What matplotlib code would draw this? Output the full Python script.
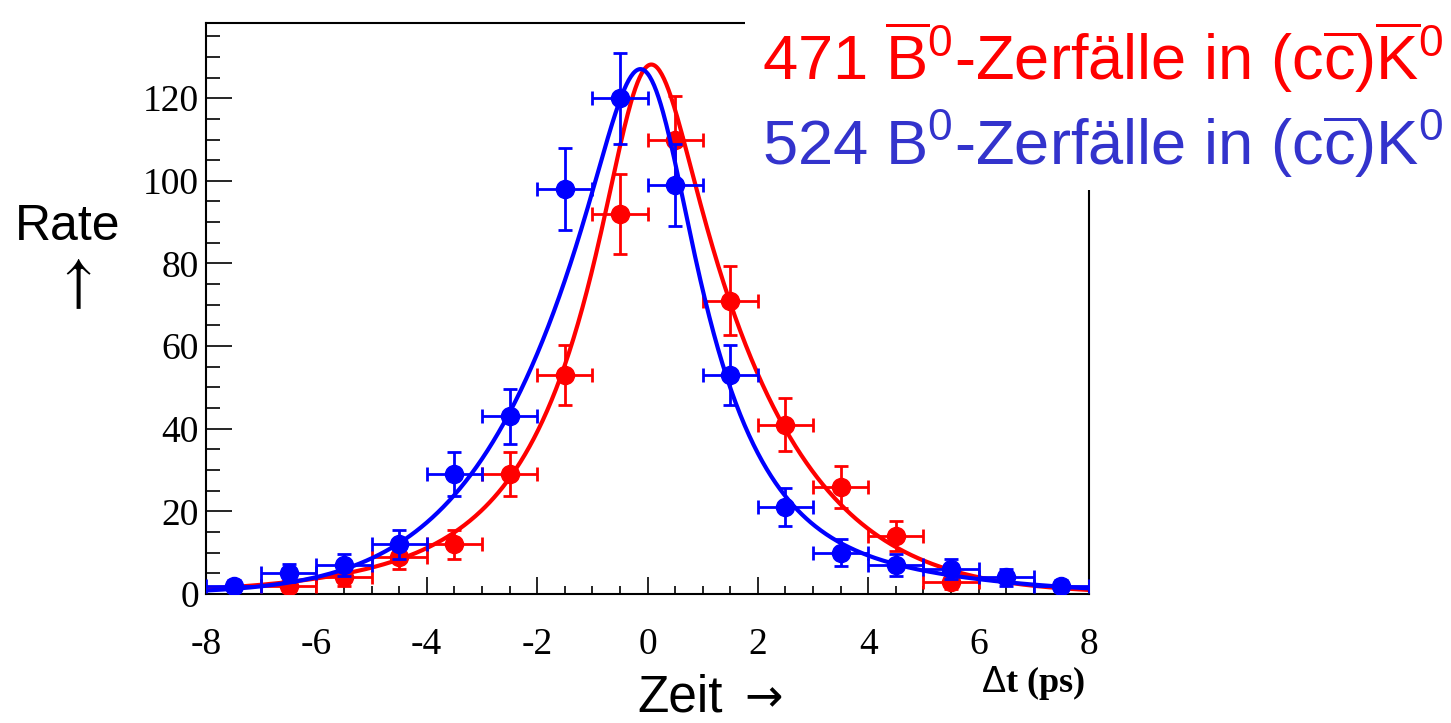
import numpy as np
import matplotlib
matplotlib.use("Agg")
from matplotlib import pyplot as plt
from matplotlib.patches import Rectangle
from matplotlib.ticker import MultipleLocator

# bin centres (ps) and counts
t_red = [-6.5, -5.5, -4.5, -3.5, -2.5, -1.5, -0.5, 0.5, 1.5, 2.5, 3.5, 4.5, 5.5]
n_red = [2, 4, 9, 12, 29, 53, 92, 110, 71, 41, 26, 14, 3]
e_red = [1.4, 2.0, 3.0, 3.5, 5.4, 7.3, 9.6, 10.5, 8.4, 6.4, 5.1, 3.7, 1.7]

t_blue = [-7.5, -6.5, -5.5, -4.5, -3.5, -2.5, -1.5, -0.5, 0.5, 1.5, 2.5, 3.5, 4.5, 5.5, 6.5, 7.5]
n_blue = [2, 5, 7, 12, 29, 43, 98, 120, 99, 53, 21, 10, 7, 6, 4, 2]
e_blue = [1.4, 2.2, 2.6, 3.5, 5.4, 6.6, 9.9, 11.0, 9.9, 7.3, 4.6, 3.2, 2.6, 2.4, 2.0, 1.4]

bin_half = 0.5

# fit parameters (amplitude, lifetime, dm, asymmetry, resolution)
fit_red = (154, 1.62, 0.5, 0.19, 0.40)
fit_blue = (154, 1.61, 0.5, -0.33, 0.43)

label_red = r"471 $\overline{\mathrm{B}}^{0}$-Zerfälle in $(\mathrm{c}\overline{\mathrm{c}})\overline{\mathrm{K}}^{0}$"
label_blue = r"524 $\mathrm{B}^{0}$-Zerfälle in $(\mathrm{c}\overline{\mathrm{c}})\mathrm{K}^{0}$"


def fit_model(t, amp, tau, dm, asym, sigma):
    # decay * (1 + A sin(dm t)), smeared with a gaussian resolution
    u = np.linspace(-12, 12, 4801)
    base = amp * np.exp(-np.abs(u) / tau) * (1 + asym * np.sin(dm * u))
    kern = np.exp(-0.5 * (u / sigma) ** 2)
    kern /= kern.sum()
    conv = np.convolve(base, kern, mode="same")
    return np.interp(t, u, conv)


plt.rcParams["mathtext.fontset"] = "custom"
plt.rcParams["mathtext.rm"] = "Liberation Sans"
plt.rcParams["mathtext.it"] = "Liberation Sans:italic"
plt.rcParams["mathtext.bf"] = "Liberation Sans:bold"
plt.rcParams["axes.unicode_minus"] = False

fig = plt.figure(figsize=(14.51, 7.23), dpi=100)
ax = fig.add_axes([206 / 1451, 1 - 594 / 723, (1089 - 206) / 1451, (594 - 23) / 723])

tt = np.linspace(-8, 8, 801)
red = "#ff0000"
blue = "#0000ff"

ax.plot(tt, fit_model(tt, *fit_red), color=red, lw=3, zorder=2)
ax.errorbar(t_red, n_red, yerr=e_red, xerr=bin_half, fmt="o", color=red, ms=13,
            elinewidth=2, capsize=5, capthick=2, zorder=3)
ax.plot(tt, fit_model(tt, *fit_blue), color=blue, lw=3, zorder=4)
ax.errorbar(t_blue, n_blue, yerr=e_blue, xerr=bin_half, fmt="o", color=blue, ms=13,
            elinewidth=2, capsize=5, capthick=2, zorder=5)

ax.set_xlim(-8, 8)
ax.set_ylim(0, 138.2)
ax.xaxis.set_major_locator(MultipleLocator(2))
ax.xaxis.set_minor_locator(MultipleLocator(0.5))
ax.yaxis.set_major_locator(MultipleLocator(20))
ax.yaxis.set_minor_locator(MultipleLocator(5))
ax.tick_params(axis="both", which="both", direction="in", top=False, right=False, width=1.2)
ax.tick_params(axis="x", which="major", length=12, pad=24)
ax.tick_params(axis="x", which="minor", length=6)
ax.tick_params(axis="y", which="major", length=19, pad=5)
ax.tick_params(axis="y", which="minor", length=10)
for lab in ax.get_xticklabels() + ax.get_yticklabels():
    lab.set_fontfamily("Liberation Serif")
    lab.set_fontsize(27)
for sp in ax.spines.values():
    sp.set_linewidth(1.5)

# white box over the top right corner of the frame, with the texts
fig.add_artist(Rectangle((745 / 1451, 1 - 190 / 723), 1, 1, transform=fig.transFigure,
                         facecolor="white", edgecolor="none", zorder=5))
fig.text(762 / 1451, 1 - 80 / 723, label_red, color=red, fontsize=45.5,
         family="Liberation Sans", ha="left", va="baseline", zorder=6)
fig.text(762 / 1451, 1 - 165 / 723, label_blue, color="#3333cc", fontsize=45.5,
         family="Liberation Sans", ha="left", va="baseline", zorder=6)

fig.text(68 / 1451, 1 - 240 / 723, "Rate", fontsize=36, family="Liberation Sans",
         ha="center", va="baseline")
fig.text(73 / 1451, 1 - 283 / 723, r"$\uparrow$", fontsize=44, math_fontfamily="stix",
         ha="center", va="center")
fig.text(637 / 1451, 1 - 711 / 723, "Zeit", fontsize=37, family="Liberation Sans",
         ha="left", va="baseline")
fig.text(764 / 1451, 1 - 711 / 723, "\u2192", fontsize=33, family="DejaVu Sans",
         ha="center", va="baseline")
fig.text(1085 / 1451, 1 - 683 / 723, r"$\Delta$t (ps)", fontsize=26, family="Liberation Serif",
         weight="bold", ha="right", va="center")

fig.savefig("out.png", dpi=100)
